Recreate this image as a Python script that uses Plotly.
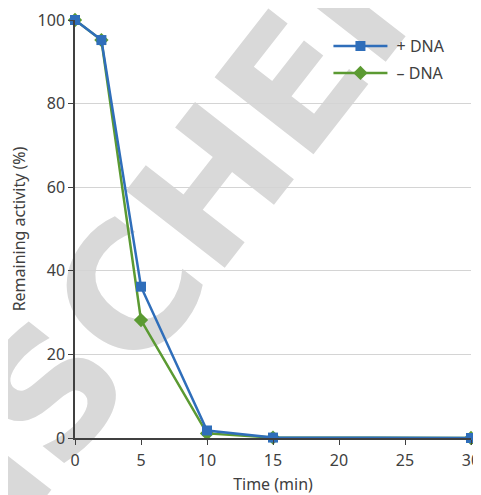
import plotly.graph_objects as go

time_min = [0, 2, 5, 10, 15, 30]
plus_dna = [100.0, 95.2, 36.2, 1.8, 0.1, 0.0]
minus_dna = [100.0, 95.2, 28.2, 1.1, 0.1, 0.0]
x_ticks = [0, 5, 10, 15, 20, 25, 30]
y_ticks = [0, 20, 40, 60, 80, 100]

BLUE = "#2F6EBA"
GREEN = "#5B9A32"
FONT = "Noto Sans"
TXT = "#404040"
FS = 16

fig = go.Figure()
fig.add_trace(go.Scatter(x=time_min, y=minus_dna, name="\u00a0– DNA", mode="lines+markers",
                         line=dict(color=GREEN, width=2.5),
                         marker=dict(symbol="diamond", size=11, color=GREEN),
                         cliponaxis=False, legendrank=2, legendgroup="m"))
fig.add_trace(go.Scatter(x=time_min, y=plus_dna, name="\u00a0+ DNA", mode="lines+markers",
                         line=dict(color=BLUE, width=2.5),
                         marker=dict(symbol="square", size=10, color=BLUE),
                         cliponaxis=False, legendrank=1, legendgroup="p"))

# watermark
cx, cy = 0.182, 0.447
fig.add_shape(type="rect", xref="paper", yref="paper", x0=cx - 0.02, x1=cx + 0.02, y0=cy - 0.02, y1=cy + 0.02,
              line=dict(width=0), fillcolor="rgba(0,0,0,0)", layer="below",
              label=dict(text="<b>FISCHER</b>", textangle=-52, textposition="middle center",
                         font=dict(size=172, color="#d9d9d9", family="DejaVu Sans")))

fig.update_layout(
    width=473, height=487,
    margin=dict(l=67, r=10, t=12, b=57),
    paper_bgcolor="white", plot_bgcolor="rgba(0,0,0,0)",
    font=dict(family=FONT, color=TXT, size=FS),
    showlegend=True,
    legend=dict(x=0.64, y=0.978, xanchor="left", yanchor="top", bgcolor="rgba(0,0,0,0)",
                font=dict(size=FS, color=TXT), itemwidth=54, tracegroupgap=3,
                traceorder="grouped"),
    xaxis=dict(range=[0, 30], tickvals=x_ticks, ticks="outside", ticklen=5, tickcolor=TXT,
               showline=True, linecolor=TXT, linewidth=1.5, showgrid=False, zeroline=False,
               tickfont=dict(size=FS, color=TXT), automargin=False, ticklabelstandoff=2,
               title=dict(text="Time (min)", font=dict(size=FS, color=TXT), standoff=12)),
    yaxis=dict(range=[0, 100], tickvals=y_ticks, ticks="outside", ticklen=5, tickcolor=TXT,
               showline=True, linecolor=TXT, linewidth=1.5, showgrid=True, gridcolor="#d4d4d4",
               gridwidth=1, zeroline=False, tickfont=dict(size=FS, color=TXT), automargin=False,
               title=dict(text="Remaining activity (%)", font=dict(size=FS, color=TXT), standoff=8)),
)

fig.write_html("out.html")
